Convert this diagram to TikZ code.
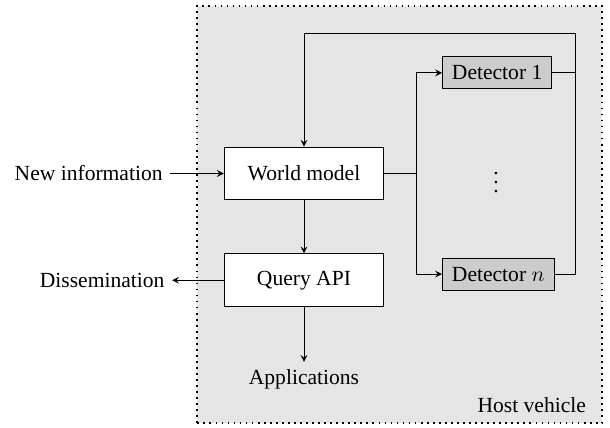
\documentclass[tikz,border=0pt]{standalone}
\usepackage{fontspec}
\setmainfont{Liberation Serif}
\usetikzlibrary{arrows}

\begin{document}
\begin{tikzpicture}[>=stealth,
    block/.style={draw, fill=white, minimum width=2.6cm, minimum height=0.86cm},
    detbox/.style={draw, fill=black!20, anchor=west, inner xsep=4.4pt, minimum height=0.52cm}]
  \useasboundingbox (-4.955,-4.148) rectangle (4.988,2.828);
  \draw[thick, dotted, fill=black!10] (-1.744,-4.07) rectangle (4.857,2.73);
  \node[anchor=south east] (host) at (4.72,-4.03) {Host vehicle};

  \node[block] (world) at (0,0) {World model};
  \node[block] (query) at (0,-1.74) {Query API};
  \node[detbox] (det1) at (2.25,1.64) {Detector 1};
  \node[detbox] (detn) at (2.25,-1.64) {Detector \(n\)};
  \node (dots) at (3.13,-0.04) {\(\vdots\)};

  \node[anchor=east] (newinfo) at (-2.18,0) {New information};
  \node[anchor=east] (dissem) at (-2.15,-1.74) {Dissemination};
  \node[anchor=north] (apps) at (0,-3.07) {Applications};

  \coordinate (branch) at (1.84,0);
  \coordinate (fbtop) at (4.43,2.29);

  \draw[->] (newinfo) -- (world);
  \draw[->] (world) -- (query);
  \draw[->] (query) -- (dissem);
  \draw[->] (query) -- (apps);
  \draw[->] (world.east) -- (branch) |- (det1.west);
  \draw[->] (world.east) -- (branch) |- (detn.west);
  \draw (detn.east) -| (fbtop);
  \draw[->] (det1.east) -| (fbtop) -| (world.north);
\end{tikzpicture}
\end{document}
